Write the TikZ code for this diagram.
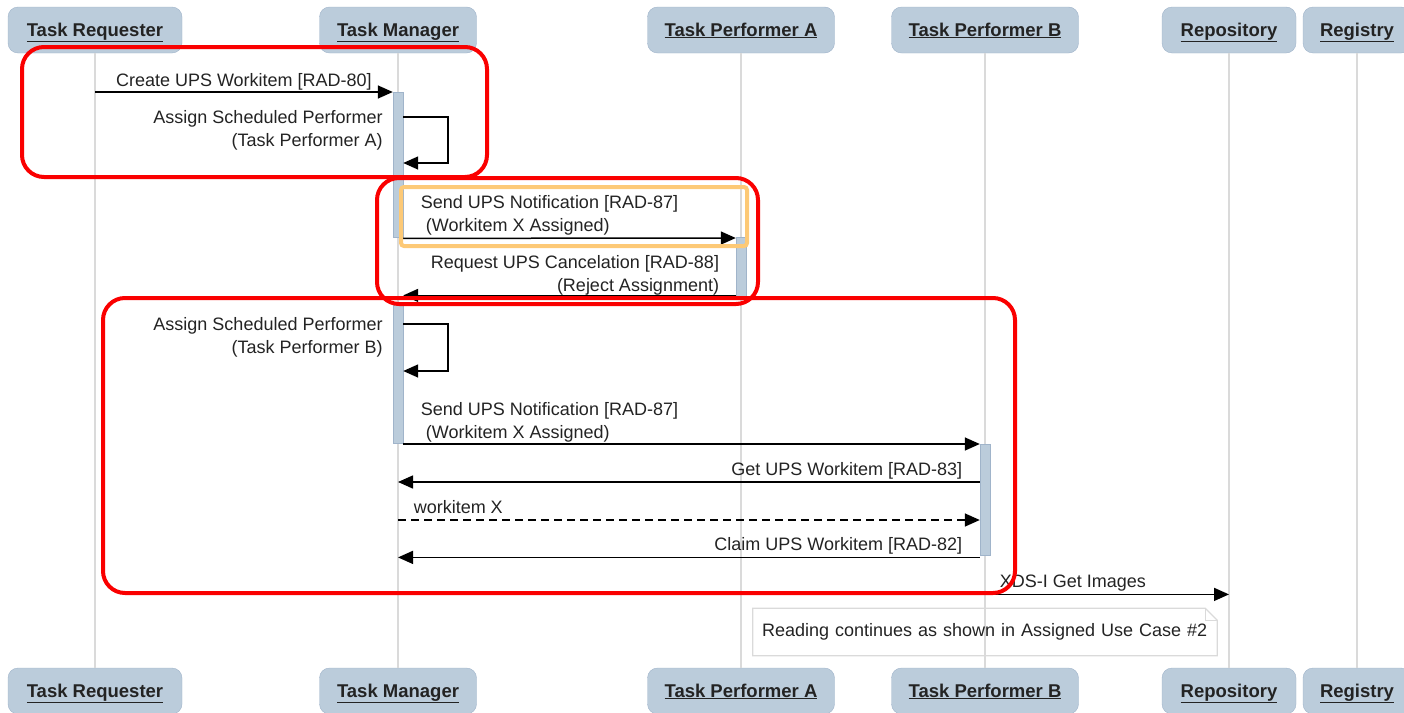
\documentclass[tikz,border=0pt]{standalone}
\usepackage{fontspec}
\setmainfont{Liberation Sans}
\usepackage{tikz}
\usetikzlibrary{arrows.meta}

\definecolor{headfill}{RGB}{187,204,219}
\definecolor{headedge}{RGB}{160,180,202}
\definecolor{lifegray}{RGB}{218,218,218}
\definecolor{txtgray}{RGB}{35,35,35}
\definecolor{markred}{RGB}{250,0,0}
\definecolor{markorange}{RGB}{253,201,118}

\begin{document}
\begin{tikzpicture}[x = 1pt , y = -1pt ,
    actor/.style = {draw = headedge , fill = headfill , rounded corners = 10pt , minimum height = 46pt , inner sep = 0pt , text height = 14pt , text depth = 2pt , font = \fontsize{18.5}{20}\selectfont\bfseries , text = txtgray},
    bar/.style = {draw = headedge , fill = headfill , minimum width = 10pt , inner sep = 0pt , anchor = north},
    msg/.style = {line width = 1.5pt , draw = black , -{Triangle[length = 15pt , width = 13pt]}},
    lbl/.style = {inner sep = 0pt , font = \fontsize{18}{23}\selectfont , text = txtgray},
    redbox/.style = {draw = markred , line width = 4pt , rounded corners = 22pt}]
    \useasboundingbox (0,0) rectangle (1404,712);

    % Κεφαλίδες
    \node[actor , minimum width = 174pt] (req) at (95,30) {\underline{Task Requester}};
    \node[actor , minimum width = 157pt] (mgr) at (398,30) {\underline{Task Manager}};
    \node[actor , minimum width = 187pt] (pfa) at (741,30) {\underline{Task Performer A}};
    \node[actor , minimum width = 187pt] (pfb) at (985,30) {\underline{Task Performer B}};
    \node[actor , minimum width = 134pt] (repo) at (1229,30) {\underline{Repository}};
    \node[actor , minimum width = 108pt] (reg) at (1357,30) {\underline{Registry}};
    \node[actor , minimum width = 174pt] (req-bot) at (95,691) {\underline{Task Requester}};
    \node[actor , minimum width = 157pt] (mgr-bot) at (398,691) {\underline{Task Manager}};
    \node[actor , minimum width = 187pt] (pfa-bot) at (741,691) {\underline{Task Performer A}};
    \node[actor , minimum width = 187pt] (pfb-bot) at (985,691) {\underline{Task Performer B}};
    \node[actor , minimum width = 134pt] (repo-bot) at (1229,691) {\underline{Repository}};
    \node[actor , minimum width = 108pt] (reg-bot) at (1357,691) {\underline{Registry}};

    % Γραμμές ζωής
    \foreach \who in {req,mgr,pfa,pfb,repo,reg}
        \draw[lifegray , line width = 1.5pt] (\who.south) -- (\who-bot.north);

    \node[bar , minimum height = 145pt] (mgrbarA) at (398,92) {};
    \node[bar , minimum height = 61pt] (pfabar) at (741,237) {};
    \node[bar , minimum height = 141pt] (mgrbarB) at (398,302) {};
    \node[bar , minimum height = 111pt] (pfbbar) at (985,444) {};

    % Μηνύματα
    \draw[msg] (req |- mgrbarA.north) -- (mgrbarA.north west) node[lbl , midway , above = 1pt] {Create UPS Workitem [RAD-80]};
    \draw[msg] ([yshift = -25pt]mgrbarA.north east) -- ++(45,0) |- ([yshift = -71pt]mgrbarA.north east);
    \node[lbl , align = right , anchor = north east] (asgnA) at ([xshift = -10pt , yshift = -18pt]mgrbarA.north west) {Assign Scheduled Performer\\(Task Performer A)};
    \draw[msg] ([yshift = -1pt]mgrbarA.south east) -- ([yshift = -1pt]pfabar.north west) node[lbl , pos = 0 , align = left , anchor = south west , xshift = 17pt , yshift = 2pt] {Send UPS Notification [RAD-87]\\\hspace*{5pt}(Workitem X Assigned)};
    \draw[msg] ([yshift = 3pt]pfabar.south west) -- ([yshift = 3pt]pfabar.south -| mgrbarB.east) node[lbl , pos = 0 , align = right , anchor = south east , xshift = -16pt , yshift = -1pt] {Request UPS Cancelation [RAD-88]\\(Reject Assignment)};
    \draw[msg] ([yshift = -22pt]mgrbarB.north east) -- ++(45,0) |- ([yshift = -69pt]mgrbarB.north east);
    \node[lbl , align = right , anchor = north east] (asgnB) at ([xshift = -10pt , yshift = -15pt]mgrbarB.north west) {Assign Scheduled Performer\\(Task Performer B)};
    \draw[msg] (mgrbarB.east |- pfbbar.north) -- (pfbbar.north west) node[lbl , pos = 0 , align = left , anchor = south west , xshift = 17pt , yshift = 1pt] {Send UPS Notification [RAD-87]\\\hspace*{5pt}(Workitem X Assigned)};
    \coordinate (get) at ([yshift = -38pt]pfbbar.north west);
    \draw[msg] (get) -- (get -| mgr) node[lbl , pos = 0 , anchor = south east , xshift = -17pt , yshift = 2pt] {Get UPS Workitem [RAD-83]};
    \coordinate (wx) at ([yshift = -76pt]pfbbar.north west);
    \draw[msg , dash pattern = on 8pt off 5pt] (wx -| mgr) -- (wx) node[lbl , pos = 0 , anchor = south west , xshift = 15pt , yshift = 6pt] {workitem X};
    \coordinate (claim) at ([yshift = -2pt]pfbbar.south west);
    \draw[msg] (claim) -- (claim -| mgr) node[lbl , pos = 0 , anchor = south east , xshift = -17pt , yshift = 2pt] {Claim UPS Workitem [RAD-82]};
    \coordinate (xds) at ([yshift = -39pt]pfbbar.south);
    \draw[msg] (xds) -- (xds -| repo) node[lbl , pos = 0 , anchor = south west , xshift = 14pt , yshift = 2pt] {XDS-I Get Images};

    % Σημείωση
    \node[lbl , minimum width = 464pt , minimum height = 47pt , text width = 446pt] (note) at (pfb |- 0,632) {Reading continues as shown in Assigned Use Case \#2};
    \draw[lifegray , line width = 1.2pt] (note.south west) -- (note.north west) -- ([xshift = -12pt]note.north east) -- ([yshift = -12pt]note.north east) -- (note.south east) -- cycle;
    \draw[lifegray , line width = 1.2pt] ([xshift = -12pt]note.north east) -- ([xshift = -12pt , yshift = -12pt]note.north east) -- ([yshift = -12pt]note.north east);

    % Επισημάνσεις
    \draw[markorange , line width = 4pt , rounded corners = 3pt] (401,187) rectangle (747,246);
    \draw[redbox] (22,47) rectangle (487,177);
    \draw[redbox] (377,178) rectangle (758,304);
    \draw[redbox] (103,298) rectangle (1015,593);
\end{tikzpicture}
\end{document}
